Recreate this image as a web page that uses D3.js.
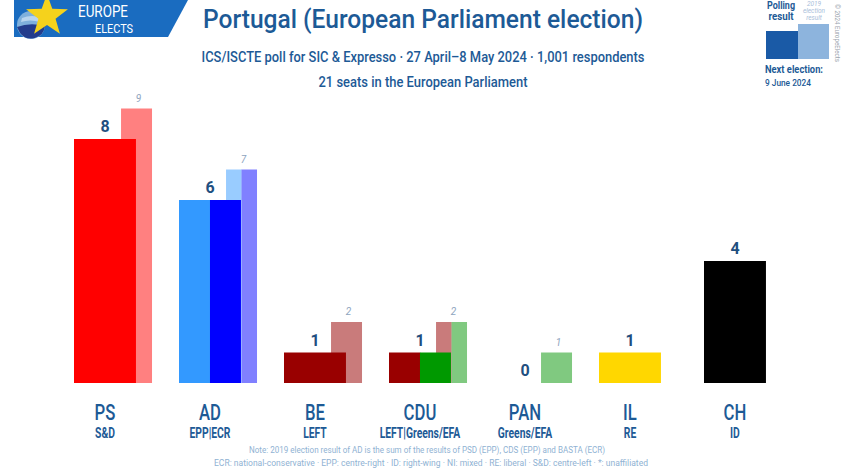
<!DOCTYPE html>
<html><head><meta charset="utf-8">
<script src="https://cdn.jsdelivr.net/npm/d3@7"></script>
<style>body{margin:0;background:#fff}svg{display:block}text{font-family:Roboto,"Open Sans",sans-serif}</style>
</head><body>
<script>
const categories = ["PS","AD","BE","CDU","PAN","IL","CH"];
const groups = ["S&D","EPP|ECR","LEFT","LEFT|Greens/EFA","Greens/EFA","RE","ID"];
const pollSeats = [8,6,1,1,0,1,4];
const seats2019 = [9,7,2,2,1,null,null];
const pollColors = [["#ff0000"],["#3399ff","#0000ff"],["#990000"],["#990000","#009900"],["#80c980"],["#ffd700"],["#000000"]];
const colors2019 = [["#ff8080"],["#99ccff","#8080ff"],["#c97b7b"],["#c97b7b","#80c980"],["#80c980"],[],[]];
const title = "Portugal (European Parliament election)";
const subtitle1 = "ICS/ISCTE poll for SIC & Expresso · 27 April–8 May 2024 · 1,001 respondents";
const subtitle2 = "21 seats in the European Parliament";
const notes = ["Note: 2019 election result of AD is the sum of the results of PSD (EPP), CDS (EPP) and BASTA (ECR)",
  "ECR: national-conservative · EPP: centre-right · ID: right-wing · NI: mixed · RE: liberal · S&D: centre-left · *: unaffiliated"];

const W = 850, H = 468;
const svg = d3.select("body").append("svg").attr("width", W).attr("height", H);
svg.append("rect").attr("width", W).attr("height", H).attr("fill", "#fff");

const dark = "#1d5a96";

// Logo
const logo = svg.append("g");
logo.append("path").attr("d", "M14,0 L188,0 L168,37 L14,37 Z").attr("fill", "#1a6cc0");
logo.append("circle").attr("cx", 31).attr("cy", 25).attr("r", 14).attr("fill", "#7fb0dc");
logo.append("path").attr("d", "M17,27 Q30,22 45,26 A14,14 0 0 1 20,33 Z").attr("fill", "#233c8c");
logo.append("path").attr("d", "M22,18 Q32,14 42,18 L40,22 Q30,19 21,22 Z").attr("fill", "#b8d4ee");
const star = d3.range(10).map(i => {
  const a = -Math.PI / 2 + i * Math.PI / 5, r = i % 2 ? 9 : 22;
  return [47 + r * Math.cos(a), 16 + r * Math.sin(a)];
});
logo.append("path").attr("d", d3.line()(star) + "Z").attr("fill", "#f5d21c");
logo.append("text").attr("x", 78).attr("y", 17).attr("font-size", 16).attr("fill", "#fff")
  .attr("textLength", 50).attr("lengthAdjust", "spacingAndGlyphs").text("EUROPE");
logo.append("text").attr("x", 95).attr("y", 33).attr("font-size", 12).attr("fill", "#fff")
  .attr("textLength", 38).attr("lengthAdjust", "spacingAndGlyphs").text("ELECTS");

// Titles
svg.append("text").attr("x", 423).attr("y", 28).attr("text-anchor", "middle").attr("font-size", 26)
  .attr("font-weight", 500).attr("fill", dark).attr("textLength", 440).attr("lengthAdjust", "spacingAndGlyphs").text(title);
svg.append("text").attr("x", 423).attr("y", 62).attr("text-anchor", "middle").attr("font-size", 14)
  .attr("font-weight", 500).attr("fill", dark).attr("textLength", 443).attr("lengthAdjust", "spacingAndGlyphs").text(subtitle1);
svg.append("text").attr("x", 423).attr("y", 87).attr("text-anchor", "middle").attr("font-size", 14)
  .attr("font-weight", 500).attr("fill", dark).attr("textLength", 209).attr("lengthAdjust", "spacingAndGlyphs").text(subtitle2);

// Legend (top right)
const lg = svg.append("g");
lg.append("rect").attr("x", 798).attr("y", 24).attr("width", 31).attr("height", 35).attr("fill", "#8db4dd");
lg.append("rect").attr("x", 766).attr("y", 31).attr("width", 32).attr("height", 28).attr("fill", "#1a5aa6");
lg.append("text").attr("x", 781).attr("y", 9).attr("text-anchor", "middle").attr("font-size", 10).attr("font-weight", 700)
  .attr("fill", dark).attr("textLength", 28).attr("lengthAdjust", "spacingAndGlyphs").text("Polling");
lg.append("text").attr("x", 781).attr("y", 20).attr("text-anchor", "middle").attr("font-size", 10).attr("font-weight", 700)
  .attr("fill", dark).attr("textLength", 25).attr("lengthAdjust", "spacingAndGlyphs").text("result");
[["2019", 6], ["election", 13], ["result", 20]].forEach(([t, y]) =>
  lg.append("text").attr("x", 814).attr("y", y).attr("text-anchor", "middle").attr("font-size", 6.5)
    .attr("font-style", "italic").attr("fill", "#a9c0da").text(t));
lg.append("text").attr("x", 765).attr("y", 73).attr("font-size", 10).attr("font-weight", 700)
  .attr("fill", dark).attr("textLength", 58).attr("lengthAdjust", "spacingAndGlyphs").text("Next election:");
lg.append("text").attr("x", 765).attr("y", 86).attr("font-size", 9).attr("font-weight", 500)
  .attr("fill", dark).attr("textLength", 46).attr("lengthAdjust", "spacingAndGlyphs").text("9 June 2024");
lg.append("text").attr("transform", "translate(835,4) rotate(90)").attr("font-size", 7).attr("fill", "#9aa4ae")
  .attr("textLength", 58).attr("lengthAdjust", "spacingAndGlyphs").text("© 2024 EuropeElects");

// Scales
const x = d3.scaleBand().domain(categories).range([74, 809]).paddingInner(0).paddingOuter(0);
const y = d3.scaleLinear().domain([0, 9]).range([383, 108.5]);
const step = x.step();
const mainW = step * 0.59, prevOff = step * 0.448, prevW = step * 0.295;

const data = categories.map((c, i) => ({c, g: groups[i], v: pollSeats[i], p: seats2019[i], col: pollColors[i], pcol: colors2019[i]}));

const bars = svg.append("g");
// 2019 bars (behind)
data.forEach(d => {
  if (d.p == null) return;
  const n = d.pcol.length, w = prevW / n, x0 = x(d.c) + prevOff;
  d.pcol.forEach((col, k) => bars.append("rect").attr("x", x0 + k * w).attr("y", y(d.p))
    .attr("width", w + (k < n - 1 ? 0.3 : 0)).attr("height", y(0) - y(d.p)).attr("fill", col));
  bars.append("text").attr("x", x0 + prevW / 2 + 2).attr("y", y(d.p) - 7).attr("text-anchor", "middle")
    .attr("font-size", 10).attr("font-style", "italic").attr("fill", "#8ea4be").text(d.p);
});
// poll bars
data.forEach(d => {
  const n = d.col.length, w = mainW / n, x0 = x(d.c);
  if (d.v > 0) d.col.forEach((col, k) => bars.append("rect").attr("x", x0 + k * w).attr("y", y(d.v))
    .attr("width", w + (k < n - 1 ? 0.3 : 0)).attr("height", y(0) - y(d.v)).attr("fill", col));
  bars.append("text").attr("x", x0 + mainW / 2).attr("y", y(d.v) - 7).attr("text-anchor", "middle")
    .attr("font-size", 16).attr("font-weight", 700).attr("fill", "#1f4f80").text(d.v);
});

// Category labels
data.forEach(d => {
  const cx = x(d.c) + mainW / 2;
  svg.append("text").attr("transform", `translate(${cx},420) scale(0.76,1)`).attr("text-anchor", "middle")
    .attr("font-size", 22).attr("font-weight", 500).attr("fill", dark).text(d.c);
  svg.append("text").attr("transform", `translate(${cx},438) scale(0.74,1)`).attr("text-anchor", "middle")
    .attr("font-size", 14).attr("font-weight", 700).attr("fill", dark).text(d.g);
});

// Notes
svg.append("text").attr("x", 427).attr("y", 453).attr("text-anchor", "middle").attr("font-size", 9)
  .attr("fill", "#8fb2d3").attr("textLength", 356).attr("lengthAdjust", "spacingAndGlyphs").text(notes[0]);
svg.append("text").attr("x", 431).attr("y", 466).attr("text-anchor", "middle").attr("font-size", 9)
  .attr("fill", "#8fb2d3").attr("textLength", 434).attr("lengthAdjust", "spacingAndGlyphs").text(notes[1]);
</script>
</body></html>
